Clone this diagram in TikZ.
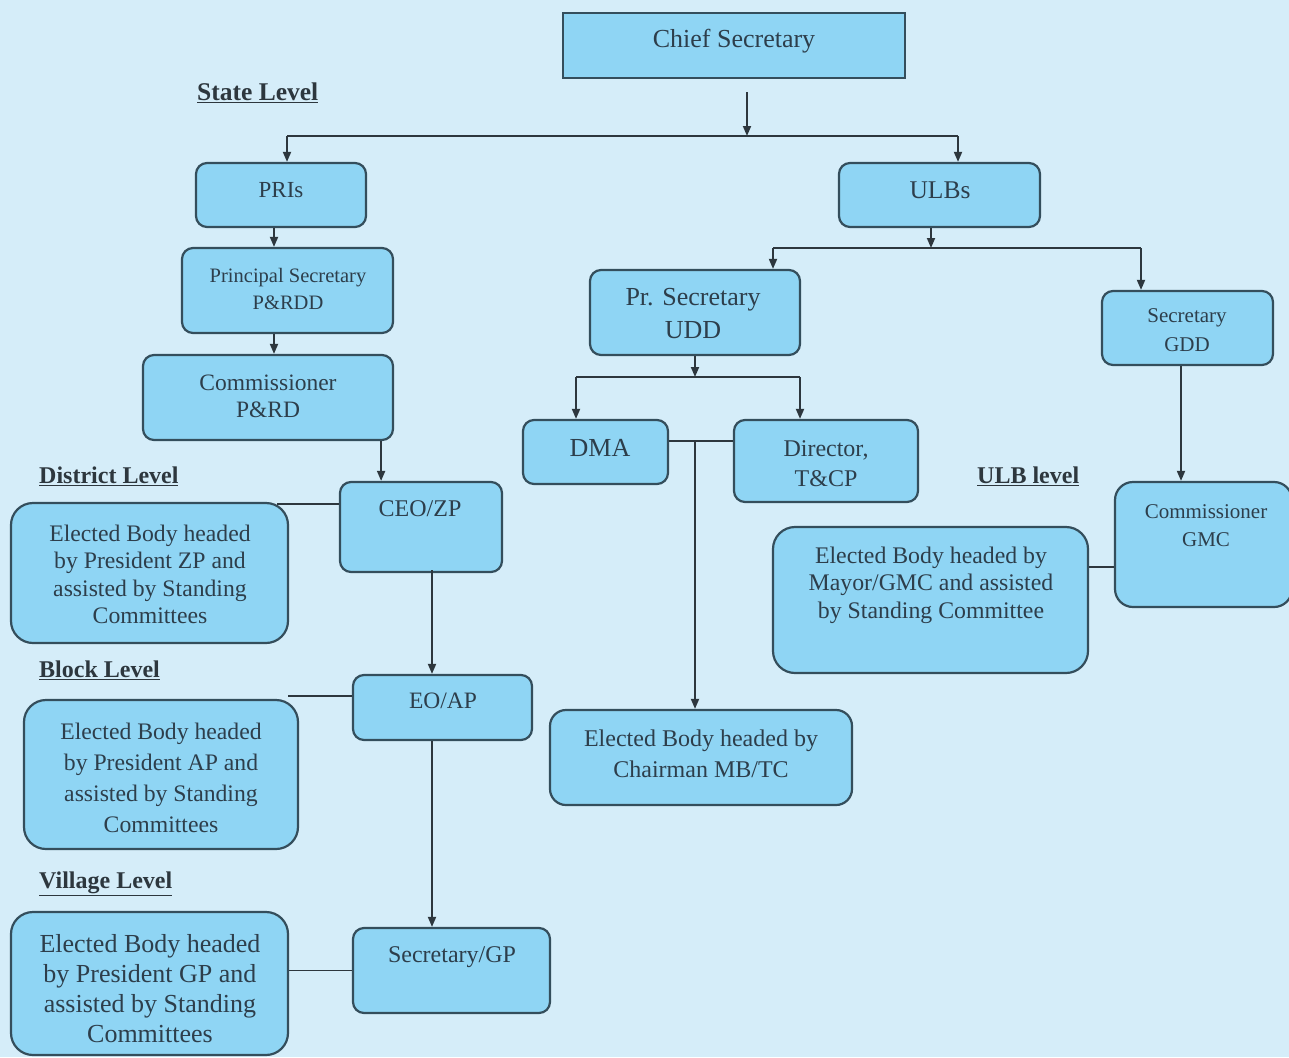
\documentclass[tikz,border=0pt]{standalone}
\usepackage{fontspec}
\setmainfont{Liberation Serif}
\usetikzlibrary{arrows.meta}
\definecolor{bgc}{RGB}{213,237,249}
\definecolor{boxc}{RGB}{143,213,244}
\definecolor{bordc}{RGB}{52,78,92}
\definecolor{txtc}{RGB}{45,62,75}
\definecolor{linec}{RGB}{45,55,62}
\tikzset{
  box/.style={draw=bordc, fill=boxc, line width=2.2pt, rounded corners=11pt, inner sep=0pt},
  sbox/.style={draw=bordc, fill=boxc, line width=2.2pt, inner sep=0pt},
  txt/.style={text=txtc, align=center, inner sep=0pt},
  lvl/.style={text=linec, inner sep=0pt, anchor=west, font=\fontsize{24}{28}\selectfont\bfseries},
  conn/.style={draw=linec, line width=1.8pt},
  arr/.style={conn, -{Triangle[length=10pt,width=8pt]}},
}
\newcommand\fs[2]{\fontsize{#1}{#2}\selectfont}
\begin{document}
\begin{tikzpicture}[x=1pt,y=-1pt]
\fill[bgc] (0,0) rectangle (1289,1057);
\useasboundingbox (0,0) rectangle (1289,1057);

% ---------- boxes ----------
\node[sbox, minimum width=342pt, minimum height=65pt] (cs) at (734,45.5) {};
\node[box, minimum width=170pt, minimum height=64pt] (pri) at (281,195) {};
\node[box, minimum width=211pt, minimum height=85pt] (ps) at (287.5,290.5) {};
\node[box, minimum width=250pt, minimum height=85pt] (com) at (268,397.5) {};
\node[box, minimum width=162pt, minimum height=90pt] (ceo) at (421,527) {};
\node[box, minimum width=277pt, minimum height=140pt, rounded corners=22pt] (zp) at (149.5,573) {};
\node[box, minimum width=179pt, minimum height=65pt] (eo) at (442.5,707.5) {};
\node[box, minimum width=274pt, minimum height=149pt, rounded corners=22pt] (ap) at (161,774.5) {};
\node[box, minimum width=197pt, minimum height=85pt] (sgp) at (451.5,970.5) {};
\node[box, minimum width=277pt, minimum height=143pt, rounded corners=22pt] (gp) at (149.5,983.5) {};
\node[box, minimum width=201pt, minimum height=64pt] (ulb) at (939.5,195) {};
\node[box, minimum width=210pt, minimum height=85pt] (udd) at (695,312.5) {};
\node[box, minimum width=171pt, minimum height=74pt] (gdd) at (1187.5,328) {};
\node[box, minimum width=145pt, minimum height=64pt] (dma) at (595.5,452) {};
\node[box, minimum width=184pt, minimum height=82pt] (dir) at (826,461) {};
\node[box, minimum width=302pt, minimum height=95pt, rounded corners=16pt] (mb) at (701,757.5) {};
\node[box, minimum width=177pt, minimum height=125pt, rounded corners=18pt] (gmc) at (1203.5,544.5) {};
\node[box, minimum width=315pt, minimum height=146pt, rounded corners=22pt] (may) at (930.5,600) {};

% ---------- texts ----------
\node[txt, font=\fs{26}{30}] (csT) at (734,41) {Chief Secretary};
\node[txt, font=\fs{23}{27}] (priT) at (281,190) {PRIs};
\node[txt, font=\fs{20.5}{27}] (psT) at (288,288.5) {Principal Secretary\\P\&RDD};
\node[txt, font=\fs{23.5}{27}] (comT) at (268,396.5) {Commissioner\\P\&RD};
\node[txt, font=\fs{24}{27}] (ceoT) at (420,509) {CEO/ZP};
\node[txt, font=\fs{23.7}{27.5}] (zpT) at (150,574.5) {Elected Body headed\\by President ZP and\\assisted by Standing\\Committees};
\node[txt, font=\fs{23.5}{27}] (eoT) at (443,701) {EO/AP};
\node[txt, font=\fs{23.7}{31}] (apT) at (161,777.5) {Elected Body headed\\by President AP and\\assisted by Standing\\Committees};
\node[txt, font=\fs{24}{27}] (sgpT) at (452,957) {Secretary/GP};
\node[txt, font=\fs{26}{30}] (gpT) at (150,988.5) {Elected Body headed\\by President GP and\\assisted by Standing\\Committees};
\node[txt, font=\fs{25.5}{28}] (ulbT) at (940,190) {ULBs};
\node[txt, font=\fs{26}{33}] (uddT) at (693,313.5) {Pr. Secretary\\UDD};
\node[txt, font=\fs{21}{29}] (gddT) at (1187,330.5) {Secretary\\GDD};
\node[txt, font=\fs{26}{28}] (dmaT) at (600,448) {DMA};
\node[txt, font=\fs{24}{30}] (dirT) at (826,463.5) {Director,\\T\&CP};
\node[txt, font=\fs{24}{31}] (mbT) at (701,754) {Elected Body headed by\\Chairman MB/TC};
\node[txt, font=\fs{23.8}{27.5}] (mayT) at (931,585) {Elected Body headed by\\Mayor/GMC and assisted\\by Standing Committee};
\node[txt, font=\fs{21}{28}] (gmcT) at (1206,526) {Commissioner\\GMC};

% ---------- level labels ----------
\node[lvl, font=\fs{25.5}{28}\bfseries] (stL) at (197,93) {\underline{State Level}};
\node[lvl] (diL) at (39,476) {\underline{District Level}};
\node[lvl] (blL) at (39,670) {\underline{Block Level}};
\node[lvl] (viL) at (39,884) {\underline{Village Level}};
\node[lvl] (ulL) at (977,476) {\underline{ULB level}};

% ---------- connectors ----------
\coordinate (csA) at (747,92);
\coordinate (jL) at (287,136);
\coordinate (jR) at (958,136);
\draw[arr] (csA) -- (csA |- jL);
\draw[conn] (jL) -- (jR);
\draw[arr] (jL) -- (jL |- pri.north);
\draw[arr] (jR) -- (jR |- ulb.north);

\coordinate (a1) at ([xshift=-7pt]pri.south);
\draw[arr] (a1) -- (a1 |- ps.north);
\coordinate (a2) at ([xshift=-13.5pt]ps.south);
\draw[arr] (a2) -- (a2 |- com.north);
\coordinate (a3) at ([xshift=-13pt]com.south east);
\draw[arr] (a3) -- (a3 |- ceo.north);
\coordinate (a4) at ([xshift=11pt,yshift=3pt]ceo.south);
\draw[arr] (a4) -- (a4 |- eo.north);
\coordinate (a5) at ([xshift=-10.5pt]eo.south);
\draw[arr] (a5) -- (a5 |- sgp.north);

\coordinate (z1) at ([xshift=-12pt,yshift=-2pt]zp.north east);
\draw[conn] (z1) -- (z1 -| ceo.west);
\coordinate (z2) at ([xshift=-11pt,yshift=3pt]ap.north east);
\draw[conn] (z2) -- (z2 -| eo.west);
\draw[conn] (sgp.west -| gp.east) -- (sgp.west);

% ULB side
\coordinate (u0) at ([xshift=-8.5pt]ulb.south);
\coordinate (uL) at (773,248);
\coordinate (uR) at (1141,248);
\draw[arr] (u0) -- (u0 |- uL);
\draw[conn] (uL) -- (uR);
\draw[arr] (uL) -- (uL |- udd.north);
\draw[arr] (uR) -- (uR |- gdd.north);

\coordinate (d0) at (udd.south);
\coordinate (dL) at (576,377);
\coordinate (dR) at (800,377);
\draw[arr] (d0) -- (d0 |- dL);
\draw[conn] (dL) -- (dR);
\draw[arr] (dL) -- (dL |- dma.north);
\draw[arr] (dR) -- (dR |- dir.north);

\coordinate (m1) at ([yshift=11pt]dma.east);
\draw[conn] (m1) -- (m1 -| dir.west);
\coordinate (m2) at (695,441);
\draw[arr] (m2) -- (m2 |- mb.north);

\coordinate (g1) at ([xshift=-6.5pt]gdd.south);
\draw[arr] (g1) -- (g1 |- gmc.north);
\coordinate (g2) at (1088,567);
\draw[conn] (g2 -| may.east) -- (g2 -| gmc.west);
\end{tikzpicture}
\end{document}
